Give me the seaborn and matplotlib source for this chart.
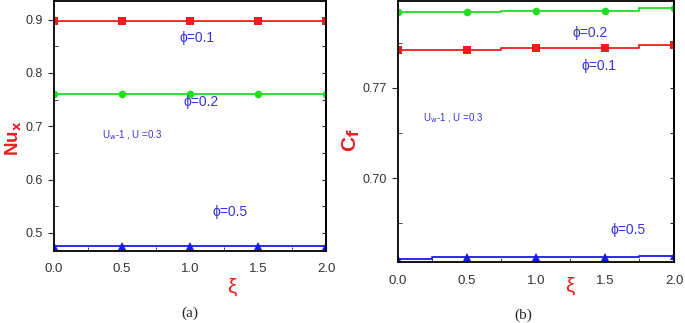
import matplotlib
matplotlib.use("Agg")
import matplotlib.pyplot as plt
import numpy as np
import pandas as pd
import seaborn as sns
from matplotlib.ticker import MultipleLocator, FormatStrFormatter

# data
xi = [0.0, 0.5, 1.0, 1.5, 2.0]
phis = ["0.1", "0.2", "0.5"]

nu_phi01 = [0.897, 0.897, 0.897, 0.897, 0.897]
nu_phi02 = [0.761, 0.761, 0.761, 0.761, 0.761]
nu_phi05 = [0.476, 0.476, 0.476, 0.476, 0.476]

cf_phi01 = [0.7999, 0.7999, 0.8010, 0.8010, 0.8033]
cf_phi02 = [0.8291, 0.8291, 0.8301, 0.8301, 0.8324]
cf_phi05 = [0.6370, 0.6384, 0.6384, 0.6384, 0.6396]

colors = {"0.1": "#ee1c1c", "0.2": "#22dd22", "0.5": "#1a1aee"}
markers = {"0.1": "s", "0.2": "o", "0.5": "^"}
txt_blue = "#3535d0"
tick_col = "#333333"


def mk_df(vals):
    dat = {"xi": [], "val": [], "phi": []}
    for phi, v in zip(phis, vals):
        for x, y in zip(xi, v):
            dat["xi"].append(x)
            dat["val"].append(y)
            dat["phi"].append(phi)
    return pd.DataFrame(data=dat)


sns.set_style("ticks")
plt.rcParams["font.family"] = ["Liberation Sans", "DejaVu Sans"]

fig = plt.figure(figsize=(6.85, 3.23), dpi=100)
ax1 = fig.add_axes([54 / 685, 1 - 251 / 323, 272 / 685, 250 / 323])
ax2 = fig.add_axes([397.7 / 685, 1 - 262.3 / 323, 276.3 / 685, 261.3 / 323])

for ax, vals, draw in [(ax1, [nu_phi01, nu_phi02, nu_phi05], "default"),
                       (ax2, [cf_phi01, cf_phi02, cf_phi05], "steps-mid")]:
    df = mk_df(vals)
    sns.lineplot(data=df, x="xi", y="val", hue="phi", style="phi",
                 markers=markers, dashes=False, palette=colors, ax=ax,
                 legend=False, linewidth=1.3, markersize=5.5,
                 markeredgewidth=0, drawstyle=draw)
    ax.set_xlim(0, 2)
    ax.xaxis.set_major_locator(MultipleLocator(0.5))
    ax.xaxis.set_minor_locator(MultipleLocator(0.25))
    ax.xaxis.set_major_formatter(FormatStrFormatter("%.1f"))
    ax.tick_params(axis="x", which="both", direction="in", length=3,
                   labelsize=9.5, labelcolor=tick_col, pad=9)
    ax.tick_params(axis="y", which="major", direction="out", length=4,
                   labelsize=9, labelcolor=tick_col, pad=4)
    ax.tick_params(axis="y", which="minor", direction="in", length=3)
    for s in ax.spines.values():
        s.set_linewidth(1.3)
        s.set_color("black")
    ax.set_xlabel("ξ", color="#e82020", fontsize=15)

# left panel
ax1.yaxis.set_major_locator(MultipleLocator(0.1))
ax1.yaxis.set_minor_locator(MultipleLocator(0.05))
ax1.yaxis.set_major_formatter(FormatStrFormatter("%.1f"))
ax1.set_ylim(0.466, 0.935)
ax1.set_ylabel(r"Nu$_\mathbf{x}$", color="#e82020", fontsize=13.5,
               fontweight="bold")
ax1.yaxis.set_label_coords(-0.112, 0.45)
ax1.xaxis.set_label_coords(0.654, -0.105)
ax1.text(0.926, 0.866, "ϕ=0.1", color=txt_blue, fontsize=10, va="center")
ax1.text(0.949, 0.745, "ϕ=0.2", color=txt_blue, fontsize=10, va="center")
ax1.text(0.353, 0.683, r"U$_\mathrm{w}$-1 , U =0.3", color=txt_blue,
         fontsize=7, va="center")
ax1.text(1.169, 0.539, "ϕ=0.5", color=txt_blue, fontsize=10, va="center")

# right panel
ax2.set_yticks([0.63, 0.70, 0.77, 0.84])
ax2.set_yticks([0.665, 0.735, 0.805], minor=True)
ax2.yaxis.set_major_formatter(FormatStrFormatter("%.2f"))
ax2.set_ylim(0.6345, 0.8376)
ax2.set_ylabel(r"C$_\mathbf{f}$", color="#e82020", fontsize=15,
               fontweight="bold")
ax2.yaxis.set_label_coords(-0.13, 0.466)
ax2.xaxis.set_label_coords(0.623, -0.055)
ax2.text(1.262, 0.8128, "ϕ=0.2", color=txt_blue, fontsize=10, va="center")
ax2.text(1.334, 0.7873, "ϕ=0.1", color=txt_blue, fontsize=10, va="center")
ax2.text(0.183, 0.7462, r"U$_\mathrm{w}$-1 , U =0.3", color=txt_blue,
         fontsize=7, va="center")
ax2.text(1.537, 0.6595, "ϕ=0.5", color=txt_blue, fontsize=10, va="center")

# inward ticks on the right spine
for ax in (ax1, ax2):
    sec = ax.secondary_yaxis("right")
    sec.set_yticks(list(ax.get_yticks()) + list(ax.get_yticks(minor=True)))
    sec.tick_params(direction="in", length=3, labelright=False)
    sec.spines["right"].set_linewidth(1.3)

fig.text(190 / 685, 1 - 313 / 323, "(a)", family=["Liberation Serif"],
         fontsize=11, ha="center", va="center")
fig.text(523 / 685, 1 - 315 / 323, "(b)", family=["Liberation Serif"],
         fontsize=11, ha="center", va="center")

fig.savefig("out.png", dpi=100)
